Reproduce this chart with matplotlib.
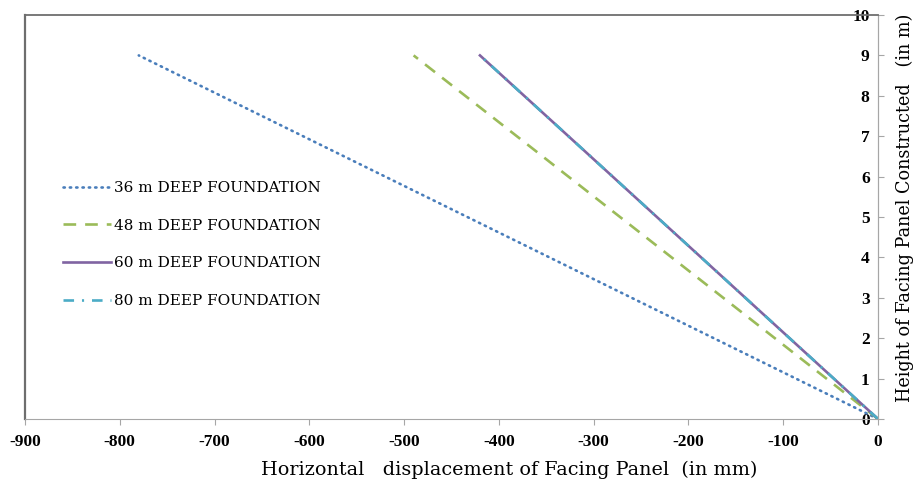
import matplotlib
matplotlib.use('agg')
import matplotlib.pyplot as plt
from matplotlib.font_manager import FontProperties

plt.rcParams['axes.unicode_minus'] = False

# facing panel height (m) vs horizontal displacement (mm)
height  = [0, 9]
disp_36 = [0, -780]
disp_48 = [0, -490]
disp_60 = [0, -420]
disp_80 = [0, -420]

labels = ['36 m DEEP FOUNDATION', '48 m DEEP FOUNDATION',
          '60 m DEEP FOUNDATION', '80 m DEEP FOUNDATION']

x_ticks = list(range(-900, 1, 100))
y_ticks = list(range(0, 11))

fig = plt.figure(figsize=(9.17, 4.86), dpi=100)
ax = fig.add_axes([0.0273, 0.1379, 0.9302, 0.8312])

lw = 1.9
ax.plot(disp_36, height, color='#4a7ebb', lw=lw, linestyle=(0, (0.5, 1.9)),
        dash_capstyle='round', label=labels[0])
ax.plot(disp_48, height, color='#9bbb59', lw=lw, linestyle=(0, (4.8, 3.4)),
        label=labels[1])
ax.plot(disp_60, height, color='#8064a2', lw=lw, linestyle='-', label=labels[2])
ax.plot(disp_80, height, color='#4bacc6', lw=lw, linestyle=(0, (4, 3, 0.8, 3)),
        label=labels[3])

ax.set_xlim(-900, 0)
ax.set_ylim(0, 10)
ax.set_xticks(x_ticks)
ax.set_yticks(y_ticks)

# y axis sits on the right edge, labels inside, ticks pointing out
ax.spines['left'].set_position(('data', 0))
ax.spines['left'].set_color('#a6a6a6')
ax.spines['right'].set_color('#a6a6a6')
ax.spines['bottom'].set_color('#a6a6a6')
ax.spines['top'].set_color('#6e6e6e')
ax.spines['top'].set_linewidth(1.3)
ax.axvline(-900, color='#6e6e6e', lw=1.6, clip_on=False)

ax.tick_params(axis='y', direction='in', length=4, color='#a6a6a6', pad=6)
ax.tick_params(axis='x', direction='out', length=4, color='#a6a6a6', pad=7)

tick_font = FontProperties(family='Liberation Serif', weight='bold', size=12.5)
for t in ax.get_xticklabels() + ax.get_yticklabels():
    t.set_fontproperties(tick_font)

fig.text(0.555, 0.033, 'Horizontal   displacement of Facing Panel  (in mm)',
         family='DejaVu Serif', size=13.8, ha='center', va='center')
fig.text(0.987, 0.572, 'Height of Facing Panel Constructed   (in m)',
         family='DejaVu Serif', size=12.7, ha='center', va='center', rotation=90)

ax.legend(loc='upper left', bbox_to_anchor=(0.036, 0.608), frameon=False,
          prop=dict(family='DejaVu Serif', size=11), handlelength=3.1,
          handletextpad=0.2, labelspacing=1.55, borderpad=0)

fig.savefig('out.png', dpi=100)
